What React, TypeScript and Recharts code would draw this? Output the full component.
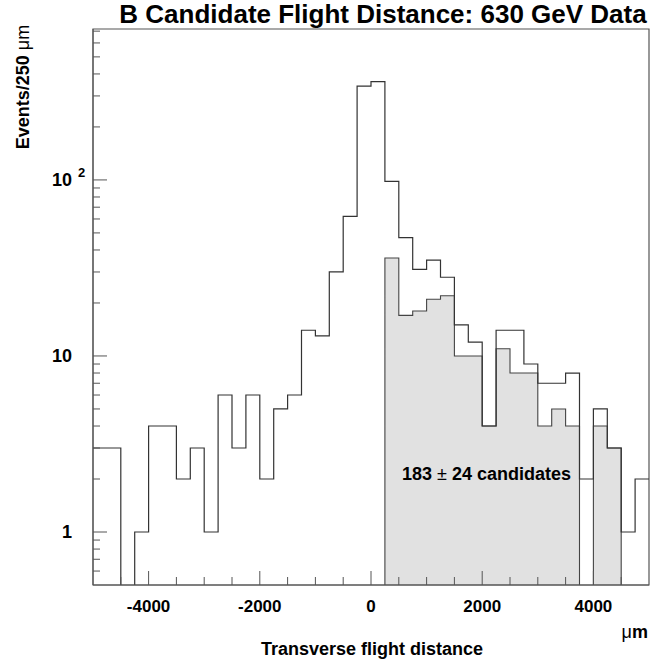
import React from 'react';
import { ComposedChart, Line, Area, XAxis, YAxis, ReferenceArea } from 'recharts';

// Bin lower edges (µm), 250 µm bins, plus the final upper edge
const binEdges = [
  -5000, -4750, -4500, -4250, -4000, -3750, -3500, -3250, -3000, -2750,
  -2500, -2250, -2000, -1750, -1500, -1250, -1000, -750, -500, -250,
  0, 250, 500, 750, 1000, 1250, 1500, 1750, 2000, 2250,
  2500, 2750, 3000, 3250, 3500, 3750, 4000, 4250, 4500, 4750, 5000,
];

// All events per bin
const totalCounts = [
  3, 3, 0, 1, 4, 4, 2, 3, 1, 6,
  3, 6, 2, 5, 6, 14, 13, 30, 62, 341,
  362, 98, 47, 31, 35, 28, 15, 12, 4, 14,
  14, 9, 7, 7, 8, 2, 5, 3, 1, 2,
];

// Shaded B candidates per bin
const candidateCounts = [
  0, 0, 0, 0, 0, 0, 0, 0, 0, 0,
  0, 0, 0, 0, 0, 0, 0, 0, 0, 0,
  0, 36, 17, 18, 21, 22, 10, 10, 4, 11,
  8, 8, 4, 5, 4, 0, 4, 3, 0, 0,
];

const xTicks = [-4500, -4000, -3500, -3000, -2500, -2000, -1500, -1000, -500, 0, 500, 1000, 1500, 2000, 2500, 3000, 3500, 4000, 4500];
const xMajor = [-4000, -2000, 0, 2000, 4000];
const yTicks = [0.6, 0.7, 0.8, 0.9, 1, 2, 3, 4, 5, 6, 7, 8, 9, 10, 20, 30, 40, 50, 60, 70, 80, 90, 100, 200, 300, 400, 500, 600, 700];
const yMajor = [1, 10, 100];

const FLOOR = 0.05; // empty bins drawn below the visible log range (clipped)

const data = binEdges.map((x, i) => {
  const k = Math.min(i, totalCounts.length - 1);
  const t = totalCounts[k];
  const c = candidateCounts[k];
  return { x, total: t > 0 ? t : FLOOR, cand: c > 0 ? c : FLOOR };
});

const FONT = '"Liberation Sans", Arial, Helvetica, sans-serif';
const AXIS = '#555';
const LINE = '#333';

const XTick = (props: any) => {
  const { x, y, payload } = props;
  const v = payload.value;
  const major = xMajor.includes(v);
  return (
    <g>
      <line x1={x} x2={x} y1={y} y2={y - (major ? 14 : 8)} stroke={AXIS} strokeWidth={1} />
      {major && (
        <text x={x} y={y + 27} textAnchor="middle" fontFamily={FONT} fontWeight="bold" fontSize={17} fill="#000">
          {v}
        </text>
      )}
    </g>
  );
};

const YTick = (props: any) => {
  const { x, y, payload } = props;
  const v = payload.value;
  const major = yMajor.includes(v);
  return (
    <g>
      <line x1={x} x2={x + (major ? 14 : 7)} y1={y} y2={y} stroke={AXIS} strokeWidth={1} />
      {v === 1 || v === 10 ? (
        <text x={x - 21} y={y + 6} textAnchor="end" fontFamily={FONT} fontWeight="bold" fontSize={18} fill="#000">
          {v}
        </text>
      ) : null}
      {v === 100 ? (
        <g>
          <text x={x - 21} y={y + 6} textAnchor="end" fontFamily={FONT} fontWeight="bold" fontSize={18} fill="#000">
            10
          </text>
          <text x={x - 15} y={y - 3} textAnchor="start" fontFamily={FONT} fontWeight="bold" fontSize={13} fill="#000">
            2
          </text>
        </g>
      ) : null}
    </g>
  );
};

export default function App() {
  return (
    <div style={{ position: 'absolute', left: 0, top: 0, width: 670, height: 660, background: '#fff' }}>
      <ComposedChart
        width={670}
        height={660}
        data={data}
        margin={{ top: 29, right: 21, bottom: 0, left: 0 }}
      >
        <Area
          type="stepAfter"
          dataKey="cand"
          stroke="#444"
          strokeWidth={1.1}
          fill="#e1e1e1"
          fillOpacity={1}
          dot={false}
          activeDot={false}
          isAnimationActive={false}
        />
        <Line
          type="stepAfter"
          dataKey="total"
          stroke={LINE}
          strokeWidth={1.2}
          dot={false}
          activeDot={false}
          isAnimationActive={false}
        />
        <XAxis
          type="number"
          dataKey="x"
          domain={[-5000, 5000]}
          allowDataOverflow
          ticks={xTicks}
          interval={0}
          tickSize={0}
          tickMargin={0}
          height={75}
          axisLine={{ stroke: AXIS }}
          tickLine={false}
          tick={<XTick />}
        />
        <YAxis
          type="number"
          scale="log"
          domain={[0.5, 720]}
          allowDataOverflow
          ticks={yTicks}
          interval={0}
          tickSize={0}
          tickMargin={0}
          width={93}
          axisLine={{ stroke: AXIS }}
          tickLine={false}
          tick={<YTick />}
        />
        <ReferenceArea x1={-5000} x2={5000} y1={0.5} y2={720} fill="none" stroke={AXIS} strokeWidth={1.2} ifOverflow="visible" />
      </ComposedChart>
      <svg
        width={670}
        height={660}
        style={{ position: 'absolute', left: 0, top: 0, pointerEvents: 'none' }}
      >
        <text x={383} y={23} textAnchor="middle" fontFamily={FONT} fontWeight="bold" fontSize={26} fill="#000">
          B Candidate Flight Distance: 630 GeV Data
        </text>
        <text
          transform="translate(29, 87) rotate(-90)"
          textAnchor="middle"
          fontFamily={FONT}
          fontWeight="bold"
          fontSize={18}
          fill="#000"
        >
          Events/250 <tspan fontWeight="normal">μm</tspan>
        </text>
        <text x={648} y={638} textAnchor="end" fontFamily={FONT} fontWeight="bold" fontSize={18} fill="#000">
          <tspan fontWeight="normal">μ</tspan>m
        </text>
        <text x={372} y={655} textAnchor="middle" fontFamily={FONT} fontWeight="bold" fontSize={18} fill="#000">
          Transverse flight distance
        </text>
        <text x={402} y={480} textAnchor="start" fontFamily={FONT} fontWeight="bold" fontSize={18} fill="#000">
          183 <tspan fontWeight="normal">±</tspan> 24 candidates
        </text>
      </svg>
    </div>
  );
}
